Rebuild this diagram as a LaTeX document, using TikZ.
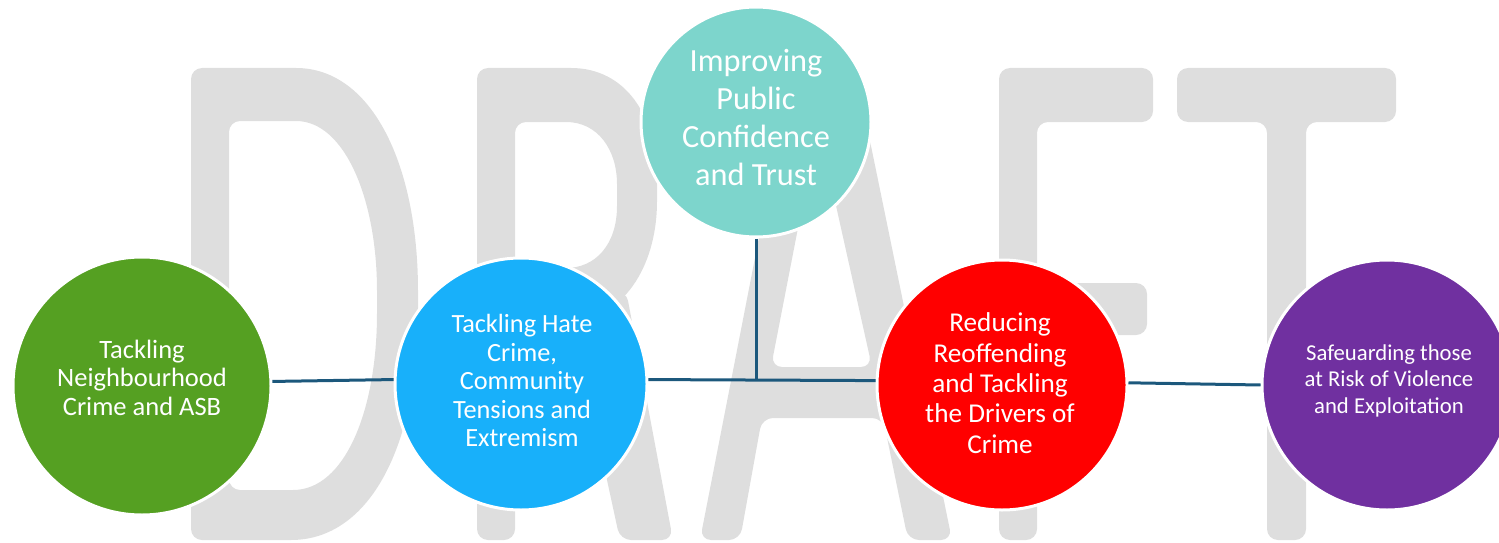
\documentclass[tikz,border=0pt]{standalone}
\usepackage{fontspec}
\setmainfont{Carlito}
\definecolor{wmgray}{RGB}{222,222,222}
\definecolor{cgreen}{RGB}{85,160,34}
\definecolor{cblue}{RGB}{24,176,250}
\definecolor{cteal}{RGB}{125,213,204}
\definecolor{cred}{RGB}{255,0,0}
\definecolor{cpurple}{RGB}{112,48,160}
\definecolor{connblue}{RGB}{28,88,124}
\begin{document}
\begin{tikzpicture}[x=1pt,y=-1pt,
  wm/.style={fill=wmgray,draw=none,even odd rule,rounded corners=11pt},
  topic/.style={circle,draw=white,line width=3pt,inner sep=0pt},
  lbl/.style={text=white,align=center,inner sep=0pt},
  conn/.style={draw=connblue,line width=3pt}]
\useasboundingbox (0,0) rectangle (1499,543);
\clip (0,0) rectangle (1499,543);
% watermark DRAFT
% D
\fill[wm] (191,68) -- (285,68) .. controls (372,68) and (418,165) .. (418,302) .. controls (418,445) and (370,540) .. (280,540) -- (191,540) -- cycle
  (229,121) -- (285,121) .. controls (345,121) and (377,200) .. (377,302) .. controls (377,410) and (345,490) .. (282,490) -- (229,490) -- cycle;
% R
\fill[wm] (477,68) -- (560,68) .. controls (625,68) and (657,115) .. (657,190) .. controls (657,270) and (620,318) .. (565,320) -- (515,320) -- (515,540) -- (477,540) -- cycle
  (515,122) -- (555,122) .. controls (598,122) and (617,150) .. (617,195) .. controls (617,245) and (595,268) .. (555,268) -- (515,268) -- cycle;
\fill[wm] (568,300) -- (626,290) -- (673,540) -- (620,540) -- cycle;
% A
\fill[wm] (700,540) -- (792,68) -- (855,68) -- (952,540) -- (908,540) -- (883,418) -- (762,418) -- (740,540) -- cycle
  (771,367) -- (818,125) -- (872,367) -- cycle;
% F
\fill[wm] (999,540) -- (999,68) -- (1153,68) -- (1153,122) -- (1037,122) -- (1037,283) -- (1147,283) -- (1147,335) -- (1037,335) -- (1037,540) -- cycle;
% T
\fill[wm] (1177,68) -- (1396,68) -- (1396,122) -- (1306,122) -- (1306,540) -- (1267,540) -- (1267,122) -- (1177,122) -- cycle;

% circles
\node[topic,fill=cgreen,minimum size=258pt] (g) at (142,386) {};
\node[topic,fill=cblue,minimum size=252pt] (b) at (521,384) {};
\node[topic,fill=cteal,minimum size=230pt] (t) at (756,122) {};
\node[topic,fill=cred,minimum size=250pt] (r) at (1002,385) {};
\node[topic,fill=cpurple,minimum size=250pt] (p) at (1387,385) {};

% connectors
\draw[conn] (g.2) -- (b.178);
\draw[conn] (b.2) -- (r.178);
\draw[conn] (t.south) -- (t.south |- b.2);
\draw[conn] (r.1) -- (p.180);

% labels
\node[lbl,font=\fontsize{26.5}{28.5}\selectfont] (gt) at (142,377.4) {Tackling\\Neighbourhood\\Crime and ASB};
\node[lbl,font=\fontsize{32.3}{37.7}\selectfont] (tt) at (756,117.5) {Improving\\Public\\Confidence\\and Trust};
\node[lbl,font=\fontsize{26.3}{28.5}\selectfont] (bt) at (522,380.9) {Tackling Hate\\Crime,\\Community\\Tensions and\\Extremism};
\node[lbl,font=\fontsize{27.2}{30.3}\selectfont] (rt) at (1000,383.1) {Reducing\\Reoffending\\and Tackling\\the Drivers of\\Crime};
\node[lbl,font=\fontsize{22.7}{26.5}\selectfont] (pt) at (1389,380.9) {Safeuarding those\\at Risk of Violence\\and Exploitation};
\end{tikzpicture}
\end{document}
